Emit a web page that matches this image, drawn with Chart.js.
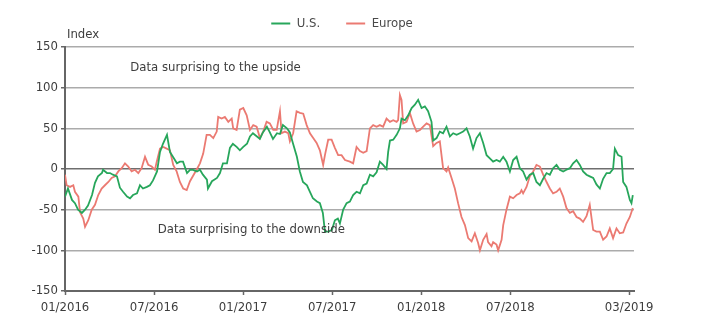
<!DOCTYPE html>
<html>
<head>
<meta charset="utf-8">
<script src="https://cdn.jsdelivr.net/npm/chart.js@4.4.1/dist/chart.umd.min.js"></script>
<style>
  html, body { margin: 0; padding: 0; background: #ffffff; }
  #wrap { width: 701px; height: 321px; position: relative; }
</style>
</head>
<body>
<div id="wrap"><canvas id="chart" width="701" height="321"></canvas></div>
<script>
// Economic surprise indices, months since 01/2016 on the x axis
const usMonths = [0.00,0.20,0.47,0.67,0.88,1.14,1.35,1.55,1.82,2.02,2.22,2.49,2.56,2.83,3.03,3.23,3.50,3.70,3.91,4.18,4.38,4.58,4.85,5.05,5.25,5.52,5.72,5.93,6.20,6.40,6.60,6.87,7.07,7.27,7.54,7.74,7.95,8.22,8.42,8.62,8.89,9.09,9.29,9.56,9.63,9.90,10.24,10.44,10.64,10.91,11.11,11.31,11.58,11.78,11.99,12.26,12.46,12.66,12.93,13.13,13.33,13.60,13.80,14.01,14.28,14.48,14.68,14.95,15.15,15.35,15.62,15.82,16.03,16.30,16.50,16.70,16.97,17.17,17.37,17.51,17.71,17.98,18.18,18.38,18.52,18.74,18.97,19.19,19.41,19.64,19.87,20.09,20.32,20.54,20.76,20.99,21.21,21.43,21.66,21.77,21.89,22.11,22.34,22.56,22.67,22.90,23.12,23.35,23.57,23.79,24.02,24.24,24.46,24.69,24.80,25.03,25.25,25.47,25.70,25.93,26.15,26.38,26.60,26.82,27.05,27.27,27.49,27.72,27.95,28.17,28.40,28.62,28.84,29.07,29.29,29.52,29.74,29.97,30.19,30.42,30.64,30.86,31.09,31.31,31.54,31.76,31.99,32.21,32.44,32.66,32.88,33.11,33.33,33.56,33.78,34.01,34.23,34.46,34.68,34.90,35.13,35.35,35.58,35.80,36.03,36.25,36.48,36.70,36.92,37.04,37.26,37.49,37.60,37.82,38.05,38.16,38.25];
const usValues = [-34,-24,-38,-42,-50,-54,-50,-45,-32,-17,-9,-5,-1,-5,-5,-7,-9,-23,-28,-34,-36,-32,-30,-20,-24,-22,-20,-14,-3,21,31,42,21,15,7,9,9,-5,-1,-1,-3,-1,-7,-13,-24,-15,-11,-5,7,7,26,31,27,23,27,31,40,44,40,37,45,52,45,37,44,43,54,50,45,32,15,-3,-16,-20,-28,-36,-40,-42,-54,-77,-77,-75,-63,-61,-67,-50,-42,-40,-32,-28,-30,-20,-18,-7,-9,-4,9,5,0,21,35,36,42,50,62,60,66,75,79,85,75,77,71,58,35,38,46,44,52,40,44,42,44,46,50,40,25,38,44,32,17,13,9,11,9,15,9,-3,11,15,1,-3,-13,-7,-5,-16,-20,-12,-5,-7,1,5,-1,-3,-1,1,7,11,5,-3,-7,-9,-11,-19,-24,-12,-5,-5,0,25,17,15,-16,-22,-38,-42,-32];

const euMonths = [0.00,0.11,0.34,0.56,0.67,0.90,1.01,1.23,1.35,1.57,1.80,2.02,2.24,2.47,2.69,2.92,3.14,3.37,3.59,3.82,4.04,4.26,4.49,4.71,4.94,5.16,5.39,5.61,5.84,6.06,6.18,6.40,6.62,6.85,7.07,7.29,7.52,7.74,7.96,8.20,8.42,8.64,8.89,9.09,9.31,9.54,9.76,9.99,10.22,10.32,10.55,10.77,11.00,11.23,11.33,11.56,11.78,12.01,12.24,12.46,12.68,12.91,13.13,13.35,13.58,13.80,14.03,14.26,14.48,14.59,14.81,15.04,15.15,15.37,15.60,15.82,16.05,16.28,16.50,16.72,16.95,17.17,17.39,17.51,17.73,17.96,18.18,18.40,18.63,18.86,19.19,19.41,19.64,19.87,20.09,20.32,20.54,20.76,20.99,21.21,21.43,21.66,21.89,22.11,22.34,22.44,22.56,22.67,22.78,23.01,23.23,23.45,23.68,23.91,24.13,24.36,24.58,24.80,25.03,25.25,25.47,25.70,25.81,26.04,26.26,26.48,26.71,26.94,27.16,27.39,27.61,27.83,27.95,28.17,28.40,28.50,28.73,28.84,29.07,29.18,29.41,29.52,29.74,29.97,30.19,30.42,30.64,30.75,30.86,31.09,31.31,31.54,31.76,31.99,32.21,32.44,32.66,32.88,33.11,33.33,33.56,33.78,34.01,34.23,34.46,34.68,34.90,35.13,35.35,35.58,35.80,36.03,36.25,36.48,36.70,36.92,37.15,37.37,37.60,37.82,38.05,38.25];
const euValues = [-7,-20,-22,-20,-28,-34,-53,-61,-71,-63,-50,-44,-32,-24,-20,-16,-11,-9,-3,1,7,3,-3,-1,-5,1,15,5,3,-1,9,25,27,25,23,5,-3,-16,-24,-26,-15,-8,0,7,19,42,42,38,46,64,62,64,58,62,50,48,73,75,66,48,54,52,38,46,58,56,48,48,71,44,46,44,34,44,71,69,68,54,44,38,32,23,5,17,36,36,26,17,17,11,9,7,27,22,20,22,50,54,52,54,52,62,58,60,58,60,91,85,56,58,69,56,46,48,52,56,54,28,32,34,1,-3,2,-11,-24,-42,-59,-69,-85,-89,-79,-91,-100,-87,-80,-90,-95,-90,-93,-100,-87,-69,-50,-34,-36,-32,-30,-26,-30,-22,-9,-3,5,3,-7,-16,-24,-30,-28,-24,-34,-48,-54,-52,-59,-61,-65,-58,-44,-75,-77,-77,-87,-83,-73,-85,-73,-79,-78,-67,-59,-48];

// Axis ticks
const tickMonths = [0, 6, 12, 18, 24, 30, 38];
const tickLabels = ['01/2016', '07/2016', '01/2017', '07/2017', '01/2018', '07/2018', '03/2019'];
const yTicks = [-150, -100, -50, 0, 50, 100, 150];

const FONT = "'Liberation Sans Narrow', 'DejaVu Sans Condensed', 'Roboto', sans-serif";
const TEXT = '#3d3d3d';
const US_COLOR = '#27a65b';
const EU_COLOR = '#eb7a72';
const LEGEND_LEFT = 50;

const toPoints = (xs, ys) => xs.map((x, i) => ({ x: x, y: ys[i] }));

// Axis title and in-chart notes; the legend row is centred from a fixed left edge
const notes = {
  id: 'notes',
  afterLayout(chart) {
    if (chart.legend) chart.legend.left = LEGEND_LEFT;
  },
  afterDraw(chart) {
    const { ctx, scales } = chart;
    const x = scales.x, y = scales.y;
    ctx.save();
    ctx.fillStyle = TEXT;
    ctx.font = '13px ' + FONT;
    ctx.textBaseline = 'middle';
    ctx.textAlign = 'left';
    ctx.fillText('Index', x.left + 2, y.top - 12);
    ctx.fillText('Data surprising to the upside', x.getPixelForValue(4.4), y.getPixelForValue(125));
    ctx.fillText('Data surprising to the downside', x.getPixelForValue(6.25), y.getPixelForValue(-75));
    ctx.restore();
  }
};

new Chart(document.getElementById('chart'), {
  type: 'line',
  data: {
    datasets: [
      { label: 'U.S.', data: toPoints(usMonths, usValues), borderColor: US_COLOR, backgroundColor: US_COLOR, borderWidth: 1.8, pointRadius: 0, tension: 0, fill: false },
      { label: 'Europe', data: toPoints(euMonths, euValues), borderColor: EU_COLOR, backgroundColor: EU_COLOR, borderWidth: 1.8, pointRadius: 0, tension: 0, fill: false }
    ]
  },
  options: {
    responsive: false,
    animation: false,
    devicePixelRatio: 1,
    layout: { padding: { left: 0, right: 67, top: -9, bottom: 0 } },
    plugins: {
      tooltip: { enabled: false },
      legend: {
        position: 'top',
        align: 'center',
        labels: {
          boxWidth: 19,
          boxHeight: 2,
          padding: 26,
          color: '#4a4a4a',
          font: { family: FONT, size: 13 },
          generateLabels(chart) {
            return Chart.defaults.plugins.legend.labels.generateLabels(chart).map(l => Object.assign(l, { lineWidth: 0 }));
          }
        }
      },
      // empty spacer between the legend and the plot
      subtitle: {
        display: true,
        text: '',
        position: 'top',
        weight: 500,
        padding: 0,
        font: { size: 7, lineHeight: 1 }
      }
    },
    scales: {
      x: {
        type: 'linear',
        min: 0,
        max: 38.33,
        afterBuildTicks(scale) { scale.ticks = tickMonths.map(v => ({ value: v })); },
        afterFit(scale) { scale.height = 30; },
        ticks: {
          autoSkip: false,
          maxRotation: 0,
          padding: 5,
          color: TEXT,
          font: { family: FONT, size: 13 },
          callback(value) { const i = tickMonths.indexOf(value); return i >= 0 ? tickLabels[i] : ''; }
        },
        grid: { drawOnChartArea: false, drawTicks: true, tickLength: 4, tickColor: '#666', tickWidth: 1.5 },
        border: { color: '#666', width: 2 }
      },
      y: {
        min: -150,
        max: 150,
        afterBuildTicks(scale) { scale.ticks = yTicks.map(v => ({ value: v })); },
        afterFit(scale) { scale.width = 65; },
        ticks: {
          padding: 3,
          color: TEXT,
          font: { family: FONT, size: 13 },
          callback(value) { return String(value); }
        },
        grid: {
          drawTicks: true,
          tickLength: 4,
          tickColor: '#666',
          color: ctx => (ctx.tick && ctx.tick.value === 0 ? '#6e6e6e' : '#ababab'),
          lineWidth: 1.5
        },
        border: { color: '#666', width: 2 }
      }
    }
  },
  plugins: [notes]
});
</script>
</body>
</html>
